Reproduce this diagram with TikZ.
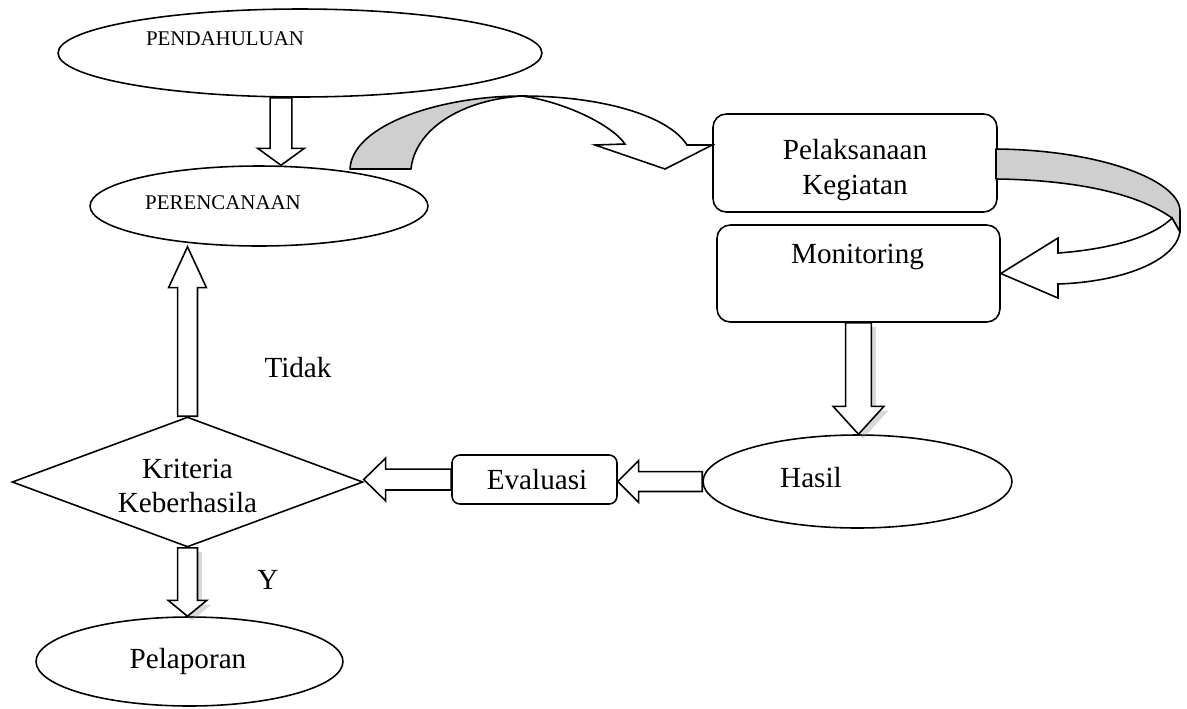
\documentclass[tikz,border=0pt]{standalone}
\usepackage{fontspec}
\setmainfont{Liberation Serif}
\usetikzlibrary{shapes.geometric,calc,shadows}

\def\pxu{0.5669pt}
% block arrow: [options]{from}{to}{half shaft}{half head}{head length}
\newcommand{\fatarrow}[6][]{%
  \draw[blockarr,#1] let \p1=(#2), \p2=(#3),
    \n1={atan2(\y2-\y1,\x2-\x1)}, \n2={veclen(\x2-\x1,\y2-\y1)} in
    {[shift={(\p1)},rotate=\n1]
    (0pt,-#4*\pxu) -- (\n2-#6*\pxu,-#4*\pxu) -- (\n2-#6*\pxu,-#5*\pxu) -- (\n2+0pt,0pt)
    -- (\n2-#6*\pxu,#5*\pxu) -- (\n2-#6*\pxu,#4*\pxu) -- (0pt,#4*\pxu) -- cycle};}

\begin{document}
\begin{tikzpicture}[x=0.02cm,y=-0.02cm,line width=0.9pt,
  oval/.style={draw,ellipse,inner sep=0pt},
  box/.style={draw,rectangle,rounded corners=7.5pt,inner sep=0pt},
  decision/.style={draw,diamond,inner sep=0pt},
  bigtxt/.style={font=\fontsize{16.6}{19.8}\selectfont,inner sep=0pt},
  smalltxt/.style={font=\fontsize{11.9}{14}\selectfont,inner sep=0pt},
  blockarr/.style={draw,fill=white,line join=miter},
  ribbon/.style={draw,fill=black!19,line join=round},
  softshadow/.style={drop shadow={opacity=0.3,shadow xshift=2.5pt,shadow yshift=-2.5pt}}]

    \useasboundingbox (0,0) rectangle (1187,708);

    % shapes
    \node[oval,minimum width=9.68cm,minimum height=1.76cm] (pend) at (300,53) {};
    \node[oval,minimum width=6.76cm,minimum height=1.6cm] (pere) at (259,206) {};
    \node[box,minimum width=5.68cm,minimum height=1.96cm] (pelak) at (855,163) {};
    \node[box,minimum width=5.66cm,minimum height=1.94cm] (monit) at (858.5,273.5) {};
    \node[oval,minimum width=6.18cm,minimum height=1.86cm] (hasil) at (857.5,481.5) {};
    \node[box,rounded corners=4.5pt,minimum width=3.3cm,minimum height=0.98cm] (eval) at (534.5,479.5) {};
    \node[decision,minimum width=7.02cm,minimum height=2.6cm] (crit) at (187.5,482) {};
    \node[oval,minimum width=6.14cm,minimum height=1.78cm] (lapor) at (189.5,661.5) {};

    % texts
    \node[smalltxt,anchor=base] (tpend) at (225,45) {PENDAHULUAN};
    \node[smalltxt,anchor=base] (tpere) at (223,209) {PERENCANAAN};
    \node[bigtxt,align=center] (tpelak) at (855,170) {Pelaksanaan\\Kegiatan};
    \node[bigtxt,anchor=base] (tmonit) at (857.5,263) {Monitoring};
    \node[bigtxt,anchor=base] (thasil) at (811,487) {Hasil};
    \node[bigtxt,anchor=base] (teval) at (537,489) {Evaluasi};
    \node[bigtxt,align=center] (tcrit) at (187.5,486) {Kriteria\\Keberhasila};
    \node[bigtxt,anchor=base] (tlapor) at (188,668) {Pelaporan};
    \node[bigtxt,anchor=base] (ttidak) at (298,377) {Tidak};
    \node[bigtxt,anchor=base] (ty) at (268,589) {Y};

    % straight block arrows
    \fatarrow{$(pend.south)+(-19,0)$}{$(pere.north)+(22,0)$}{11}{23.5}{17}
    \fatarrow[softshadow]{monit.south}{monit.south |- hasil.north}{13}{25.5}{28}
    \fatarrow{hasil.west}{hasil.west -| eval.east}{10}{21}{21}
    \fatarrow{eval.west}{eval.west -| crit.east}{10.5}{21.5}{22}
    \fatarrow{crit.north}{crit.north |- pere.south}{10}{19}{41}
    \fatarrow[softshadow]{crit.south}{crit.south |- lapor.north}{10}{19.5}{16}

    % curved arrow to Pelaksanaan
    \coordinate (barb1) at ($(pelak.west)+(0,-18)$);
    \filldraw[ribbon] (350,169) .. controls (352,125) and (440,96) .. (522,96)
      .. controls (460,100) and (415,130) .. (411,169) -- cycle;
    \draw[blockarr] (522,96) .. controls (600,96) and (668,115) .. (687,145)
      -- (barb1) -- (665,169) -- (595,145) -- (625,144)
      .. controls (612,125) and (565,102) .. (522,96) -- cycle;

    % curved arrow to Monitoring
    \filldraw[ribbon] (996,149) .. controls (1100,150) and (1178,180) .. (1180,210)
      -- (1180,232) -- (1172,218) .. controls (1140,195) and (1080,180) .. (996,179) -- cycle;
    \draw[blockarr] (1172,218) .. controls (1150,240) and (1100,250) .. (1058,253)
      -- (1058,238) -- (monit.east) -- (1058,298) -- (1058,284)
      .. controls (1120,282) and (1175,262) .. (1180,232) -- cycle;
\end{tikzpicture}
\end{document}
